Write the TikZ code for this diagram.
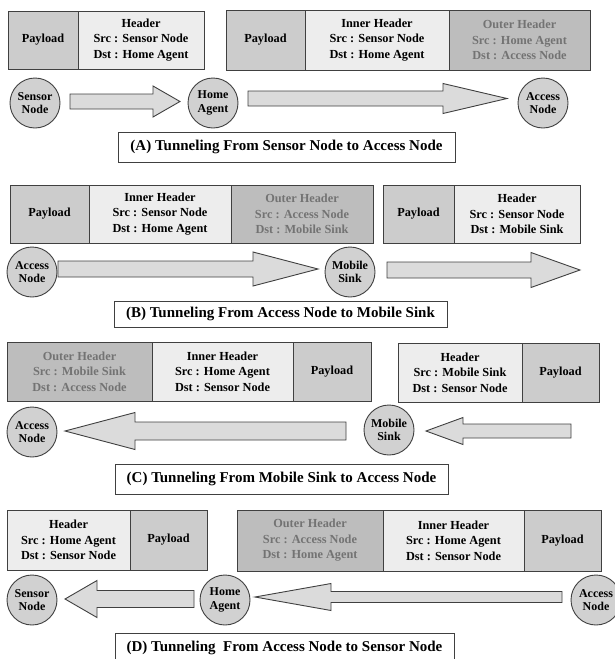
\documentclass[tikz,border=0pt]{standalone}
\usepackage{fontspec}
\setmainfont{Liberation Serif}
\usetikzlibrary{positioning,calc}
\definecolor{boxline}{gray}{0.25}
\definecolor{payfill}{gray}{0.80}
\definecolor{hdrfill}{gray}{0.93}
\definecolor{outfill}{gray}{0.74}
\definecolor{outtext}{gray}{0.45}
\definecolor{nodefill}{gray}{0.82}
\definecolor{arrowfill}{gray}{0.86}
\tikzstyle{cell} = [draw=boxline, line width=0.9pt, minimum height=58pt, inner sep=0pt, outer sep=0pt, align=center, font=\fontsize{12.3}{15.5}\selectfont\bfseries]
\tikzstyle{pay cell} = [cell, fill=payfill]
\tikzstyle{hdr cell} = [cell, fill=hdrfill]
\tikzstyle{out cell} = [cell, fill=outfill, text=outtext]
\tikzstyle{station} = [circle, draw=boxline, line width=0.9pt, fill=nodefill, minimum size=50pt, inner sep=0pt, align=center, font=\fontsize{12}{13.5}\selectfont\bfseries]
\tikzstyle{caption box} = [draw=boxline, line width=0.9pt, fill=white, inner sep=0pt, font=\fontsize{15}{17}\selectfont\bfseries]
\tikzstyle{fat arrow} = [draw=boxline, line width=0.9pt, fill=arrowfill, line join=miter]
\newcommand{\fatarrow}[5]{
 \coordinate (hb) at ($(#2)!#5!(#1)$);
 \filldraw[fat arrow] ($(#1)!#3!90:(#2)$) -- ($(hb)!#3!90:(#2)$) -- ($(hb)!#4!90:(#2)$) -- (#2)
  -- ($(hb)!#4!-90:(#2)$) -- ($(hb)!#3!-90:(#2)$) -- ($(#1)!#3!-90:(#2)$) -- cycle;
}
\begin{document}
\begin{tikzpicture}[x=1pt,y=-1pt]
    \useasboundingbox (0,0) rectangle (614,659);

    % (A) sensor node -> home agent -> access node
    \node[pay cell, anchor=west, minimum width=70pt] (a1pay) at (8,40) {Payload};
    \node[hdr cell, minimum width=126pt, right=0pt of a1pay] (a1hdr) {Header\\Src : Sensor Node\\Dst : Home Agent};
    \node[pay cell, anchor=west, minimum width=79pt, minimum height=60pt] (a2pay) at (226,40) {Payload};
    \node[hdr cell, minimum width=144pt, minimum height=60pt, right=0pt of a2pay] (a2in) {Inner Header\\Src : Sensor Node\\Dst : Home Agent};
    \node[out cell, minimum width=141pt, minimum height=60pt, right=0pt of a2in] (a2out) {Outer Header\\Src : Home Agent\\Dst : Access Node};
    \node[station] (aSN) at (35,103) {Sensor\\Node};
    \node[station] (aHA) at (213,103) {Home\\Agent};
    \node[station] (aAN) at (543,103) {Access\\Node};
    \coordinate (aT1) at (70,101.5);  \coordinate (aH1) at (180,101.5);
    \coordinate (aT2) at (248,98.5);  \coordinate (aH2) at (507,98.5);
    \fatarrow{aT1}{aH1}{7.5pt}{15.5pt}{27pt}
    \fatarrow{aT2}{aH2}{7.5pt}{15pt}{64pt}
    \node[caption box, minimum width=337pt, minimum height=30pt] (capA) at (286.5,147) {(A) Tunneling From Sensor Node to Access Node};

    % (B) access node -> mobile sink
    \node[pay cell, anchor=west, minimum width=79pt] (b1pay) at (10,214) {Payload};
    \node[hdr cell, minimum width=142pt, right=0pt of b1pay] (b1in) {Inner Header\\Src : Sensor Node\\Dst : Home Agent};
    \node[out cell, minimum width=142pt, right=0pt of b1in] (b1out) {Outer Header\\Src : Access Node\\Dst : Mobile Sink};
    \node[pay cell, anchor=west, minimum width=71pt] (b2pay) at (383,214) {Payload};
    \node[hdr cell, minimum width=126pt, right=0pt of b2pay] (b2hdr) {Header\\Src : Sensor Node\\Dst : Mobile Sink};
    \node[station] (bAN) at (32,272) {Access\\Node};
    \node[station] (bMS) at (350,272) {Mobile\\Sink};
    \coordinate (bT1) at (58,269);   \coordinate (bH1) at (318,269);
    \coordinate (bT2) at (387,270);  \coordinate (bH2) at (580,270);
    \fatarrow{bT1}{bH1}{8pt}{17pt}{65pt}
    \fatarrow{bT2}{bH2}{8pt}{17.5pt}{49pt}
    \node[caption box, minimum width=333pt, minimum height=26pt] (capB) at (280.5,314) {(B) Tunneling From Access Node to Mobile Sink};

    % (C) mobile sink -> access node
    \node[out cell, anchor=west, minimum width=145pt, minimum height=59pt] (c1out) at (7,371.5) {Outer Header\\Src : Mobile Sink\\Dst : Access Node};
    \node[hdr cell, minimum width=141pt, minimum height=59pt, right=0pt of c1out] (c1in) {Inner Header\\Src : Home Agent\\Dst : Sensor Node};
    \node[pay cell, minimum width=78pt, minimum height=59pt, right=0pt of c1in] (c1pay) {Payload};
    \node[hdr cell, anchor=west, minimum width=124pt, minimum height=59pt] (c2hdr) at (398,372.5) {Header\\Src : Mobile Sink\\Dst : Sensor Node};
    \node[pay cell, minimum width=77pt, minimum height=59pt, right=0pt of c2hdr] (c2pay) {Payload};
    \node[station] (cAN) at (32,432) {Access\\Node};
    \node[station] (cMS) at (389,430) {Mobile\\Sink};
    \coordinate (cT1) at (346,431);  \coordinate (cH1) at (65,431);
    \coordinate (cT2) at (571,431);  \coordinate (cH2) at (426,431);
    \fatarrow{cT1}{cH1}{9pt}{18.5pt}{70pt}
    \fatarrow{cT2}{cH2}{7pt}{13.5pt}{37pt}
    \node[caption box, minimum width=333pt, minimum height=30pt] (capC) at (281.5,479) {(C) Tunneling From Mobile Sink to Access Node};

    % (D) access node -> home agent -> sensor node
    \node[hdr cell, anchor=west, minimum width=123pt, minimum height=60pt] (d1hdr) at (7,540) {Header\\Src : Home Agent\\Dst : Sensor Node};
    \node[pay cell, minimum width=77pt, minimum height=60pt, right=0pt of d1hdr] (d1pay) {Payload};
    \node[out cell, anchor=west, minimum width=146pt, minimum height=61pt] (d2out) at (237,540.5) {Outer Header\\Src : Access Node\\Dst : Home Agent};
    \node[hdr cell, minimum width=141pt, minimum height=61pt, right=0pt of d2out] (d2in) {Inner Header\\Src : Home Agent\\Dst : Sensor Node};
    \node[pay cell, minimum width=77pt, minimum height=61pt, right=0pt of d2in] (d2pay) {Payload};
    \node[station] (dSN) at (32,600) {Sensor\\Node};
    \node[station] (dHA) at (225,600) {Home\\Agent};
    \node[station] (dAN) at (596,600) {Access\\Node};
    \coordinate (dT1) at (194,599);  \coordinate (dH1) at (65,599);
    \coordinate (dT2) at (562,597);  \coordinate (dH2) at (255,597);
    \fatarrow{dT1}{dH1}{8.5pt}{18.5pt}{32pt}
    \fatarrow{dT2}{dH2}{5.5pt}{13.5pt}{76pt}
    \node[caption box, minimum width=339pt, minimum height=30pt] (capD) at (284.5,648) {(D) Tunneling~ From Access Node to Sensor Node};
\end{tikzpicture}
\end{document}
